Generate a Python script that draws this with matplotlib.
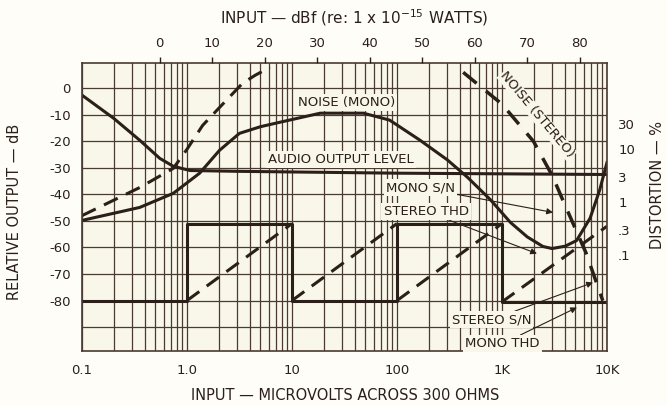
import numpy as np
import matplotlib
matplotlib.use("Agg")
import matplotlib.pyplot as plt
from matplotlib.ticker import LogLocator, NullFormatter, NullLocator

# --- data (input in microvolts, output in dB) ---
audio_uv = [0.1, 0.2, 0.355, 0.55, 0.74, 1.07, 3, 100, 10000]
audio_db = [-2.6, -11.3, -19.6, -26.4, -29.4, -31, -31.3, -32, -32.5]

noise_mono_uv = [0.1, 0.355, 0.74, 1.32, 2.04, 3.16, 5.0, 7.7, 18.6, 47.9, 85,
                 166, 302, 468, 776, 1200, 1740, 2450, 3000, 4000, 5130, 6900,
                 8500, 10000]
noise_mono_db = [-49.8, -44.9, -39.6, -32, -23.4, -17, -14.5, -12.8, -9.4, -9.4,
                 -12, -19.6, -27, -33.5, -42, -50.5, -56, -59.6, -60.4, -59.5,
                 -57.4, -49, -38.5, -28]

rise_uv = [0.1, 0.355, 0.74, 1.0, 1.41, 2.14, 3.39, 4.47, 6.17]
rise_db = [-48, -37.4, -30.2, -23, -14, -6.4, 1.9, 4.9, 7.9]

step_uv = [0.1, 1, 1, 10, 10, 100, 100, 1000, 1000, 10000]
step_db = [-80, -80, -51, -51, -80, -80, -51, -51, -80.5, -80.5]

ramp_start_uv = [1, 10, 100, 1000]
ramp_end_uv = [10, 100, 1000, 10000]
ramp_start_db = [-80, -80, -80, -80.5]
ramp_end_db = [-51, -51, -51, -52]

noise_st_uv = [427, 1000, 1995, 3020, 3981, 6310, 9120]
noise_st_db = [6, -6, -20, -33, -44, -62, -80]

bottom_ticks = [0.1, 1, 10, 100, 1000, 10000]
bottom_labels = ["0.1", "1.0", "10", "100", "1K", "10K"]
dbf_ticks = [0, 10, 20, 30, 40, 50, 60, 70, 80]
dbf_ref_uv = 0.55
dist_ticks = [30, 10, 3, 1, 0.3, 0.1]
dist_labels = ["30", "10", "3", "1", ".3", ".1"]
dist_offset_db = -43

paper = "#f9f6ea"
ink = "#2b1f1a"
grid_c = "#4a3a30"
fs = 9.5

fig = plt.figure(figsize=(6.67, 4.05), dpi=100, facecolor="#fefdf8")
ax = fig.add_axes([0.1229, 0.1333, 0.7871, 0.7111], facecolor=paper)
ax.set_xscale("log")
ax.set_xlim(0.1, 10000)
ax.set_ylim(-99, 9.5)

# graph paper grid
ax.xaxis.set_minor_locator(LogLocator(base=10, subs=np.arange(2, 10)))
ax.xaxis.set_minor_formatter(NullFormatter())
ax.set_xticks(bottom_ticks)
ax.set_xticklabels(bottom_labels)
yt = np.arange(-90, 1, 10)
ax.set_yticks(yt)
ax.set_yticklabels(["" if v == -90 else ("0" if v == 0 else f"-{abs(v)}") for v in yt])
ax.grid(which="both", axis="x", color=grid_c, lw=0.9)
ax.grid(which="major", axis="y", color=grid_c, lw=0.9)
ax.set_axisbelow(True)
ax.tick_params(which="both", length=0, colors=ink, labelsize=fs)
ax.tick_params(axis="x", pad=9)
ax.tick_params(axis="y", pad=8)
for s in ax.spines.values():
    s.set_color(grid_c)
    s.set_linewidth(1.2)

lw = 2.2
ax.plot(audio_uv, audio_db, color=ink, lw=lw, solid_capstyle="butt")
ax.plot(noise_mono_uv, noise_mono_db, color=ink, lw=lw)
ax.plot(rise_uv, rise_db, color=ink, lw=lw, ls=(0, (5, 3)))
ax.plot(step_uv, step_db, color=ink, lw=lw)
for x0, x1, y0, y1 in zip(ramp_start_uv, ramp_end_uv, ramp_start_db, ramp_end_db):
    ax.plot([x0, x1], [y0, y1], color=ink, lw=lw, ls=(0, (5, 3)))
ax.plot(noise_st_uv, noise_st_db, color=ink, lw=2.5, ls=(0, (5, 3.5)))

# labels on the chart
box = dict(facecolor=paper, edgecolor="none", pad=1.5)
ax.text(33, -5.3, "NOISE (MONO)", ha="center", va="center", fontsize=fs, color=ink, bbox=box)
ax.text(29, -26.8, "AUDIO OUTPUT LEVEL", ha="center", va="center", fontsize=fs, color=ink, bbox=box)
ax.text(2150, -10, "NOISE (STEREO)", ha="center", va="center", fontsize=fs, color=ink,
        rotation=-50, bbox=dict(facecolor=paper, edgecolor="none", pad=0.5))

arrow = dict(arrowstyle="-|>", lw=0.8, color=ink, mutation_scale=9, shrinkA=0, shrinkB=0)
ax.annotate("MONO S/N", xy=(3062, -46.8), xytext=(357, -37.4), ha="right", va="center",
            fontsize=fs, color=ink, arrowprops=arrow, bbox=box)
ax.annotate("STEREO THD", xy=(2153, -62.3), xytext=(480, -46.4), ha="right", va="center",
            fontsize=fs, color=ink, arrowprops=arrow, bbox=box)
ax.annotate("STEREO S/N", xy=(7362, -73.2), xytext=(1900, -87.2), ha="right", va="center",
            fontsize=fs, color=ink, arrowprops=arrow, bbox=box)
ax.annotate("MONO THD", xy=(5176, -82.6), xytext=(2300, -96.2), ha="right", va="center",
            fontsize=fs, color=ink, arrowprops=arrow, bbox=box)

# top axis: dBf
top = ax.twiny()
top.set_xscale("log")
top.set_xlim(ax.get_xlim())
top.set_xticks([dbf_ref_uv * 10 ** (d / 20) for d in dbf_ticks])
top.set_xticklabels([str(d) for d in dbf_ticks])
top.xaxis.set_minor_locator(NullLocator())
top.tick_params(axis="x", length=4.5, width=1, colors=ink, labelsize=fs, pad=5)
for s in top.spines.values():
    s.set_visible(False)

# right axis: distortion %
right = ax.twinx()
right.set_ylim(ax.get_ylim())
right.set_yticks([20 * np.log10(p) + dist_offset_db for p in dist_ticks])
right.set_yticklabels(dist_labels)
right.tick_params(axis="y", length=0, colors=ink, labelsize=fs, pad=8)
for s in right.spines.values():
    s.set_visible(False)

fig.text(354 / 667, 1 - 18 / 405, r"INPUT — dBf (re: 1 x 10$^{-15}$ WATTS)",
         ha="center", va="center", fontsize=11, color=ink)
fig.text(345 / 667, 1 - 395 / 405, "INPUT — MICROVOLTS ACROSS 300 OHMS",
         ha="center", va="center", fontsize=10.5, color=ink)
fig.text(15 / 667, 1 - 212 / 405, "RELATIVE OUTPUT — dB", rotation=90,
         ha="center", va="center", fontsize=10.5, color=ink)
fig.text(658 / 667, 1 - 185 / 405, "DISTORTION — %", rotation=90,
         ha="center", va="center", fontsize=10.5, color=ink)

fig.savefig("out.png", dpi=100, facecolor=fig.get_facecolor())
